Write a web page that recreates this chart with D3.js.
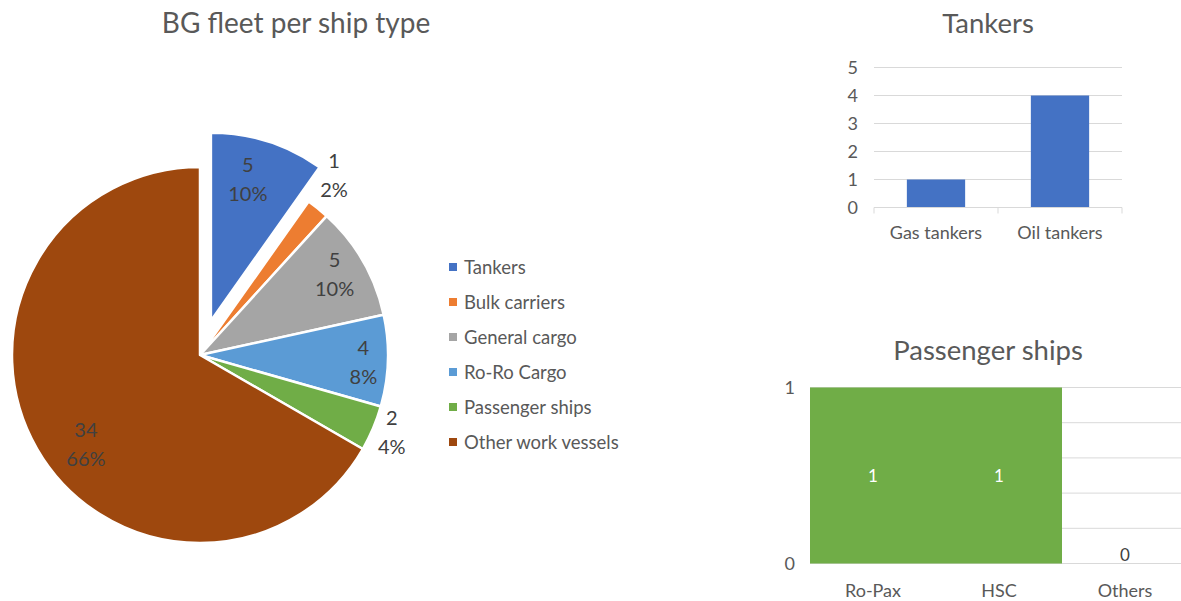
<!DOCTYPE html>
<html><head><meta charset="utf-8">
<script src="https://cdn.jsdelivr.net/npm/d3@7"></script>
<style>
html,body{margin:0;padding:0;background:#fff;}
svg{display:block;font-family:Lato, "Open Sans", sans-serif;}
</style></head>
<body>
<svg id="c" width="1181" height="601"></svg>
<script>
// ---- data ----
const pieCategories = ["Tankers","Bulk carriers","General cargo","Ro-Ro Cargo","Passenger ships","Other work vessels"];
const pieValues = [5,1,5,4,2,34];
const piePercentLabels = ["10%","2%","10%","8%","4%","66%"];
const pieColors = ["#4472c4","#ed7d31","#a5a5a5","#5b9bd5","#70ad47","#9e480e"];

const tankerCategories = ["Gas tankers","Oil tankers"];
const tankerValues = [1,4];
const tankerTicks = [0,1,2,3,4,5];

const passengerCategories = ["Ro-Pax","HSC","Others"];
const passengerValues = [1,1,0];
const passengerGrid = [0,0.2,0.4,0.6,0.8,1];
const passengerTickLabels = [0,1];

// ---- setup ----
const svg = d3.select("#c");
const titleColor = "#595959", textColor = "#595959", labelColor = "#404040", gridColor = "#d9d9d9";

// ---- pie ----
const cx = 200, cy = 355, R = 188;
const explode = [36,0,0,0,0,0];
const labelFactor = [0.776,1.19,0.835,0.87,1.1,0.77];
const labelAngleShift = [-3,-2,-1,0.7,-1,-8]; // degrees
const pie = d3.pie().sort(null).value(d=>d).startAngle(0).endAngle(2*Math.PI);
const arcs = pie(pieValues);
const arc = d3.arc().innerRadius(0).outerRadius(R);
const pg = svg.append("g").attr("transform",`translate(${cx},${cy})`);
arcs.forEach((a,i)=>{
  const mid = (a.startAngle+a.endAngle)/2;
  const ox = Math.sin(mid)*explode[i], oy = -Math.cos(mid)*explode[i];
  const g = pg.append("g").attr("transform",`translate(${ox},${oy})`);
  g.append("path").attr("d",arc(a)).attr("fill",pieColors[i])
    .attr("stroke","#fff").attr("stroke-width",2.5).attr("stroke-linejoin","round");
  const la = mid + labelAngleShift[i]*Math.PI/180;
  const lr = R*labelFactor[i];
  const lx = Math.sin(la)*lr, ly = -Math.cos(la)*lr;
  const t = g.append("text").attr("text-anchor","middle").attr("font-size",20)
    .attr("fill",labelColor);
  t.append("tspan").attr("x",lx).attr("y",ly-7.5).text(pieValues[i]);
  t.append("tspan").attr("x",lx).attr("y",ly+21.5).text(piePercentLabels[i]);
});
// pie title
svg.append("text").attr("x",296).attr("y",33).attr("text-anchor","middle")
  .attr("font-size",28).attr("fill",titleColor).text("BG fleet per ship type");
// legend
const lg = svg.append("g");
pieCategories.forEach((c,i)=>{
  const y = 267 + i*35;
  lg.append("rect").attr("x",449).attr("y",y-4).attr("width",8).attr("height",8).attr("fill",pieColors[i]);
  lg.append("text").attr("x",464).attr("y",y+6.5).attr("font-size",18.5).attr("fill",textColor).text(c);
});

// ---- tankers bar chart ----
const tx = d3.scaleBand().domain(tankerCategories).range([874,1122]).padding(0);
const ty = d3.scaleLinear().domain([0,5]).range([207.5,67.5]);
const tg = svg.append("g");
svg.append("text").attr("x",988).attr("y",33).attr("text-anchor","middle")
  .attr("font-size",27.5).attr("fill",titleColor).text("Tankers");
tankerTicks.forEach(v=>{
  if(v>0) tg.append("line").attr("x1",874).attr("x2",1122).attr("y1",ty(v)).attr("y2",ty(v))
    .attr("stroke",gridColor).attr("stroke-width",1);
  tg.append("text").attr("x",858).attr("y",ty(v)+6.5).attr("text-anchor","end")
    .attr("font-size",18).attr("fill",textColor).text(v);
});
const bw = tx.bandwidth()*0.47;
tg.selectAll("rect.b").data(tankerValues).enter().append("rect")
  .attr("x",(d,i)=>tx(tankerCategories[i])+tx.bandwidth()/2-bw/2)
  .attr("y",d=>ty(d)).attr("width",bw).attr("height",d=>ty(0)-ty(d)).attr("fill","#4472c4");
tg.append("line").attr("x1",874).attr("x2",1122).attr("y1",ty(0)).attr("y2",ty(0))
  .attr("stroke",gridColor).attr("stroke-width",1);
[874, 874+tx.bandwidth(), 1122].forEach(x=>{
  tg.append("line").attr("x1",x).attr("x2",x).attr("y1",ty(0)).attr("y2",ty(0)+6)
    .attr("stroke",gridColor).attr("stroke-width",1);
});
tankerCategories.forEach(c=>{
  tg.append("text").attr("x",tx(c)+tx.bandwidth()/2).attr("y",239).attr("text-anchor","middle")
    .attr("font-size",18).attr("fill",textColor).text(c);
});

// ---- passenger bar chart ----
const px = d3.scaleBand().domain(passengerCategories).range([810,1188]).padding(0);
const py = d3.scaleLinear().domain([0,1]).range([563.5,387.5]);
const ppg = svg.append("g");
svg.append("text").attr("x",988).attr("y",360).attr("text-anchor","middle")
  .attr("font-size",27.5).attr("fill",titleColor).text("Passenger ships");
passengerGrid.forEach(v=>{
  ppg.append("line").attr("x1",810).attr("x2",1188).attr("y1",py(v)).attr("y2",py(v))
    .attr("stroke",gridColor).attr("stroke-width",1);
});
passengerTickLabels.forEach(v=>{
  ppg.append("text").attr("x",795).attr("y",py(v)+6.5).attr("text-anchor","end")
    .attr("font-size",18).attr("fill",textColor).text(v);
});
passengerValues.forEach((v,i)=>{
  const c = passengerCategories[i];
  ppg.append("rect").attr("x",px(c)).attr("y",py(v)).attr("width",px.bandwidth())
    .attr("height",py(0)-py(v)).attr("fill","#70ad47");
  const inside = v>0;
  ppg.append("text").attr("x",px(c)+px.bandwidth()/2)
    .attr("y", inside ? (py(v)+py(0))/2+6 : py(v)-3)
    .attr("text-anchor","middle").attr("font-size",17)
    .attr("fill", inside ? "#fff" : labelColor).text(v);
  ppg.append("text").attr("x",px(c)+px.bandwidth()/2).attr("y",597).attr("text-anchor","middle")
    .attr("font-size",18).attr("fill",textColor).text(c);
});
</script>
</body></html>
